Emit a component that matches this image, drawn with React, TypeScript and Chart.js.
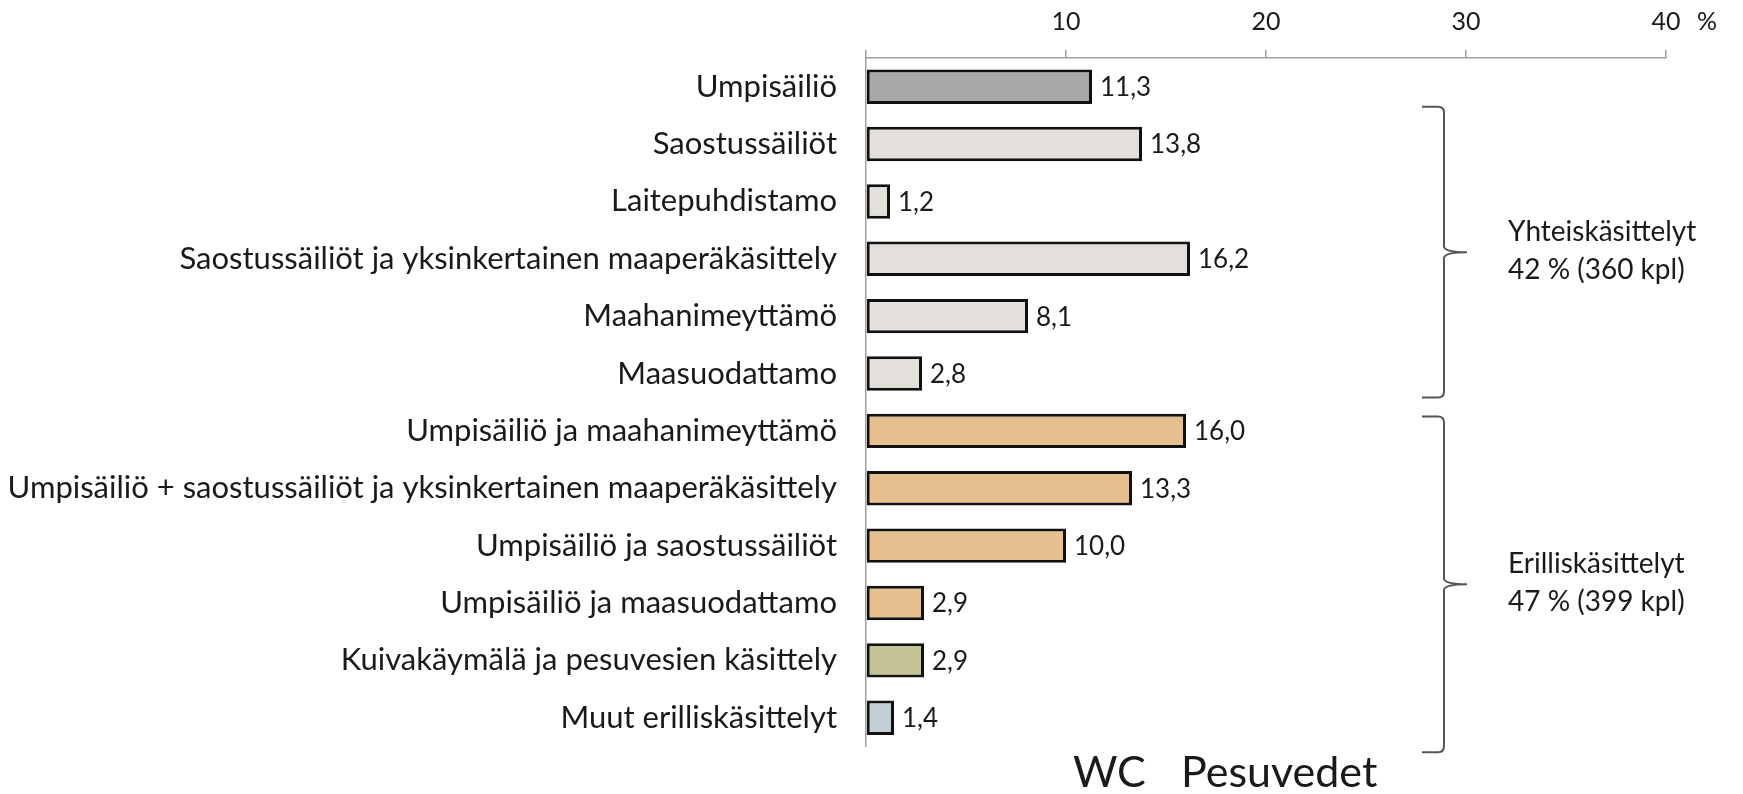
import React, { useEffect, useRef } from "react";
import { Chart, registerables } from "chart.js";

Chart.register(...registerables);

const categories = [
  "Umpisäiliö",
  "Saostussäiliöt",
  "Laitepuhdistamo",
  "Saostussäiliöt ja yksinkertainen maaperäkäsittely",
  "Maahanimeyttämö",
  "Maasuodattamo",
  "Umpisäiliö ja maahanimeyttämö",
  "Umpisäiliö + saostussäiliöt ja yksinkertainen maaperäkäsittely",
  "Umpisäiliö ja saostussäiliöt",
  "Umpisäiliö ja maasuodattamo",
  "Kuivakäymälä ja pesuvesien käsittely",
  "Muut erilliskäsittelyt",
];
const values = [11.3, 13.8, 1.2, 16.2, 8.1, 2.8, 16.0, 13.3, 10.0, 2.9, 2.9, 1.4];
const valueLabels = ["11,3", "13,8", "1,2", "16,2", "8,1", "2,8", "16,0", "13,3", "10,0", "2,9", "2,9", "1,4"];
const xTickValues = [0, 10, 20, 30, 40];
const axisUnit = "%";
const groupTitles = ["Yhteiskäsittelyt", "Erilliskäsittelyt"];
const groupSubtitles = ["42 % (360 kpl)", "47 % (399 kpl)"];
const groupFirst = [1, 6];
const groupLast = [5, 11];
const footerLabels = ["WC", "Pesuvedet"];

const FONT = "Lato, 'Open Sans', sans-serif";
const TEXT = "#1a1a1a";

function makePattern(): CanvasPattern | string {
  const c = document.createElement("canvas");
  c.width = 4;
  c.height = 4;
  const g = c.getContext("2d");
  if (!g) return "#a6a6a6";
  g.fillStyle = "#a9a9a9";
  g.fillRect(0, 0, 4, 4);
  g.fillStyle = "#9c9c9c";
  g.fillRect(0, 0, 1, 1);
  g.fillRect(2, 2, 1, 1);
  const p = g.createPattern(c, "repeat");
  return p || "#a6a6a6";
}

export default function App() {
  const ref = useRef<HTMLCanvasElement | null>(null);

  useEffect(() => {
    if (!ref.current) return;
    const pattern = makePattern();
    const colors = values.map((_, i) => {
      if (i === 0) return pattern;
      if (i <= 5) return "#e3e0dc";
      if (i <= 9) return "#e5c08e";
      if (i === 10) return "#c3c397";
      return "#bfcfd4";
    });

    const annotations = {
      id: "annotations",
      afterDatasetsDraw(chart: any) {
        const ctx = chart.ctx;
        const meta = chart.getDatasetMeta(0);
        ctx.save();
        // value labels
        ctx.font = `26px ${FONT}`;
        ctx.fillStyle = TEXT;
        ctx.textBaseline = "middle";
        ctx.textAlign = "left";
        meta.data.forEach((el: any, i: number) => {
          ctx.fillText(valueLabels[i], el.x + 8, el.y + 1);
        });
        // unit
        ctx.font = `25px ${FONT}`;
        ctx.fillText(axisUnit, 1697, 22);

        // brackets
        const ys = chart.scales.y;
        const step = ys.getPixelForValue(1) - ys.getPixelForValue(0);
        const tops = [ys.getPixelForValue(groupFirst[0]) - 0.65 * step, ys.getPixelForValue(groupFirst[1]) - 0.25 * step];
        const bottoms = [ys.getPixelForValue(groupLast[0]) + 0.42 * step, ys.getPixelForValue(groupLast[1]) + 0.6 * step];
        ctx.strokeStyle = "#555555";
        ctx.lineWidth = 2;
        const xl = 1422;
        const xv = 1444;
        const xt = 1467;
        for (let g = 0; g < 2; g++) {
          const t = tops[g];
          const b = bottoms[g];
          const m = (t + b) / 2;
          const r = 6;
          ctx.beginPath();
          ctx.moveTo(xl, t);
          ctx.lineTo(xv - r, t);
          ctx.quadraticCurveTo(xv, t, xv, t + r);
          ctx.lineTo(xv, m - r);
          ctx.quadraticCurveTo(xv, m, xt, m);
          ctx.quadraticCurveTo(xv, m, xv, m + r);
          ctx.lineTo(xv, b - r);
          ctx.quadraticCurveTo(xv, b, xv - r, b);
          ctx.lineTo(xl, b);
          ctx.stroke();
          ctx.font = `28px ${FONT}`;
          ctx.fillStyle = TEXT;
          ctx.textAlign = "left";
          ctx.textBaseline = "middle";
          ctx.fillText(groupTitles[g], 1508, m - 20);
          ctx.fillText(groupSubtitles[g], 1508, m + 18);
        }
        // footer
        ctx.font = `43px ${FONT}`;
        ctx.textBaseline = "alphabetic";
        ctx.fillText(footerLabels[0], 1073, 787);
        ctx.fillText(footerLabels[1], 1181, 787);
        ctx.restore();
      },
    };

    const chart = new Chart(ref.current, {
      type: "bar",
      data: {
        labels: categories,
        datasets: [
          {
            data: values,
            backgroundColor: colors as any,
            borderColor: "#111111",
            borderWidth: 3,
            borderSkipped: false,
            barPercentage: 0.6,
            categoryPercentage: 1,
          },
        ],
      },
      options: {
        indexAxis: "y",
        animation: false,
        responsive: false,
        maintainAspectRatio: false,
        layout: { padding: { left: 0, top: 0, right: 77, bottom: 13 } },
        plugins: { legend: { display: false }, tooltip: { enabled: false } },
        scales: {
          x: {
            position: "top",
            min: 0,
            max: 40,
            afterBuildTicks(scale: any) {
              scale.ticks = xTickValues.map((v) => ({ value: v }));
            },
            afterFit(scale: any) {
              scale.height = 58;
            },
            ticks: {
              callback: (v: any) => (Number(v) === 0 ? "" : String(v)),
              font: { family: FONT, size: 25 },
              color: TEXT,
              padding: 13,
              maxRotation: 0,
            },
            grid: {
              drawOnChartArea: false,
              drawTicks: true,
              tickLength: 8,
              color: "#a0a0a0",
              lineWidth: 1.5,
            },
            border: { display: true, color: "#a0a0a0", width: 1.5 },
          },
          y: {
            afterFit(scale: any) {
              scale.width = 866;
            },
            ticks: {
              font: { family: FONT, size: 31 },
              color: TEXT,
              padding: 29,
              autoSkip: false,
            },
            grid: { display: false, drawTicks: false },
            border: { display: true, color: "#a0a0a0", width: 1.5 },
          },
        },
      },
      plugins: [annotations],
    });
    return () => chart.destroy();
  }, []);

  return (
    <div style={{ position: "fixed", left: 0, top: 0, width: 1743, height: 794, background: "#ffffff" }}>
      <canvas ref={ref} width={1743} height={794} style={{ width: 1743, height: 794, display: "block" }} />
    </div>
  );
}
